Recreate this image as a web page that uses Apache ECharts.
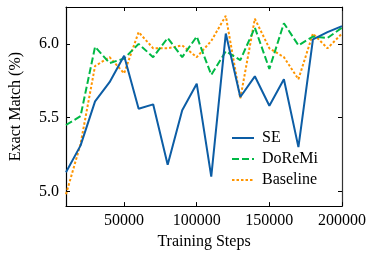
<!DOCTYPE html>
<html>
<head>
<meta charset="utf-8">
<script src="https://cdn.jsdelivr.net/npm/echarts@6/dist/echarts.min.js"></script>
<style>html,body{margin:0;padding:0;background:#fff}#c{width:374px;height:255px}</style>
</head>
<body>
<div id="c"></div>
<script>
const steps = [10000,20000,30000,40000,50000,60000,70000,80000,90000,100000,110000,120000,130000,140000,150000,160000,170000,180000,190000,200000];
const seValues = [5.13,5.31,5.61,5.74,5.92,5.56,5.59,5.18,5.55,5.73,5.10,6.07,5.64,5.78,5.58,5.76,5.30,6.03,6.08,6.12];
const doremiValues = [5.45,5.51,5.98,5.87,5.90,6.00,5.91,6.04,5.91,6.05,5.79,5.95,5.89,6.11,5.83,6.14,5.99,6.05,6.04,6.11];
const baselineValues = [4.98,5.32,5.85,5.91,5.80,6.08,5.97,5.97,5.99,5.91,6.02,6.19,5.63,6.17,5.97,5.91,5.76,6.07,5.97,6.07];
const xTicks = [50000,100000,150000,200000];
const yTicks = [5.0,5.5,6.0];
const seriesNames = ['SE','DoReMi','Baseline'];

const FONT = 'Liberation Serif';
const FS = 16;
const pair = (vals) => steps.map((s,i)=>[s, vals[i]]);
const chart = echarts.init(document.getElementById('c'), null, {renderer:'canvas'});
const tickCommon = {show:true, inside:true, length:4, lineStyle:{color:'#000', width:1}};
chart.setOption({
  animation:false,
  textStyle:{fontFamily:FONT},
  grid:{left:58, right:32, top:7, bottom:48, containLabel:false},
  xAxis:[{
    type:'value', min:10000, max:200000, position:'bottom',
    name:'Training Steps', nameLocation:'middle', nameGap:27,
    nameTextStyle:{fontFamily:FONT, fontSize:FS, color:'#000'},
    axisLine:{show:true, onZero:false, lineStyle:{color:'#000', width:1.2}},
    axisTick:Object.assign({customValues:xTicks}, tickCommon),
    axisLabel:{customValues:xTicks, fontFamily:FONT, fontSize:FS, color:'#000', margin:7, formatter:v=>String(v)},
    splitLine:{show:false}
  },{
    type:'value', min:10000, max:200000, position:'top',
    axisLine:{show:true, onZero:false, lineStyle:{color:'#000', width:1.2}},
    axisTick:Object.assign({customValues:xTicks}, tickCommon),
    axisLabel:{show:false}, splitLine:{show:false}
  }],
  yAxis:[{
    type:'value', min:4.9, max:6.25, position:'left',
    name:'Exact Match (%)', nameLocation:'middle', nameGap:42,
    nameTextStyle:{fontFamily:FONT, fontSize:FS, color:'#000'},
    axisLine:{show:true, onZero:false, lineStyle:{color:'#000', width:1.2}},
    axisTick:Object.assign({customValues:yTicks}, tickCommon),
    axisLabel:{customValues:yTicks, fontFamily:FONT, fontSize:FS, color:'#000', margin:7, formatter:v=>v.toFixed(1)},
    splitLine:{show:false}
  },{
    type:'value', min:4.9, max:6.25, position:'right',
    axisLine:{show:true, onZero:false, lineStyle:{color:'#333', width:1.2}},
    axisTick:Object.assign({customValues:yTicks}, tickCommon),
    axisLabel:{show:false}, splitLine:{show:false}
  }],
  legend:{
    orient:'vertical', left:226, top:125,
    itemWidth:22, itemHeight:12, itemGap:5,
    itemStyle:{opacity:0, borderWidth:0},
    textStyle:{fontFamily:FONT, fontSize:FS, color:'#000', padding:[0,0,0,3]},
    data:seriesNames
  },
  series:[
    {name:seriesNames[0], type:'line', data:pair(seValues), symbol:'none', showSymbol:false,
     lineStyle:{color:'#0C5DA5', width:2}, itemStyle:{color:'#0C5DA5'}, z:4},
    {name:seriesNames[1], type:'line', data:pair(doremiValues), symbol:'none', showSymbol:false,
     lineStyle:{color:'#00B945', width:2, type:[7,3]}, itemStyle:{color:'#00B945'}, z:3},
    {name:seriesNames[2], type:'line', data:pair(baselineValues), symbol:'none', showSymbol:false,
     lineStyle:{color:'#FF9500', width:2, type:[2.5,2]}, itemStyle:{color:'#FF9500'}, z:2}
  ]
});
</script>
</body>
</html>
